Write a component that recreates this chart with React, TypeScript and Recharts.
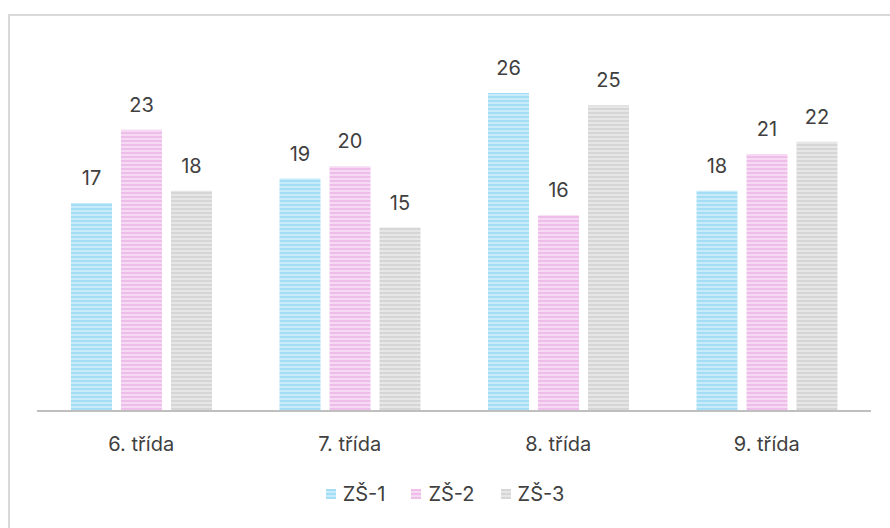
import React from "react";
import { BarChart, Bar, XAxis, YAxis, LabelList } from "recharts";

const categories = ["6. třída", "7. třída", "8. třída", "9. třída"];
const zs1 = [17, 19, 26, 18];
const zs2 = [23, 20, 16, 21];
const zs3 = [18, 15, 25, 22];
const seriesNames = ["ZŠ-1", "ZŠ-2", "ZŠ-3"];

const data = categories.map((c, i) => ({ name: c, a: zs1[i], b: zs2[i], c: zs3[i] }));

const FONT = "Inter, 'Noto Sans', sans-serif";
const TXT = "#404040";
const FS = 20;

const patterns = [
  { id: "pBlue", dark: "#a3def6", light: "#c8ebfa" },
  { id: "pPink", dark: "#eebdea", light: "#f6d9f3" },
  { id: "pGray", dark: "#d6d6d6", light: "#e6e6e6" },
];

const Defs = () => (
  <defs>
    {patterns.map((p) => (
      <pattern key={p.id} id={p.id} width="4" height="4" patternUnits="userSpaceOnUse">
        <rect x="0" y="0" width="4" height="4" fill={p.light} />
        <rect x="0" y="0" width="4" height="2" fill={p.dark} />
      </pattern>
    ))}
  </defs>
);

const LegendBox = () => (
  <div
    style={{
      position: "absolute",
      left: 0,
      top: 480,
      width: 890,
      height: 28,
      display: "flex",
      justifyContent: "center",
      alignItems: "center",
      fontFamily: FONT,
      fontSize: FS,
      color: TXT,
    }}
  >
    {seriesNames.map((n, i) => (
      <div key={n} style={{ display: "flex", alignItems: "center", marginRight: i < 2 ? 26 : 0 }}>
        <svg width={10} height={10} style={{ marginRight: 7 }}>
          <rect width={10} height={10} fill={`url(#${patterns[i].id})`} />
        </svg>
        <span>{n}</span>
      </div>
    ))}
  </div>
);

export default function App() {
  return (
    <div style={{ position: "absolute", left: 0, top: 0, width: 890, height: 528, overflow: "hidden" }}>
      <div
        style={{
          position: "absolute",
          left: 8,
          top: 14,
          width: 900,
          height: 540,
          borderLeft: "2px solid #d9d9d9",
          borderTop: "2px solid #d9d9d9",
        }}
      />
      <div style={{ position: "absolute", left: 0, top: 0 }}>
        <BarChart
          width={890}
          height={528}
          data={data}
          margin={{ top: 44, right: 19, bottom: 87, left: 37 }}
          barSize={41}
          barGap={9}
        >
          <Defs />
          <YAxis hide domain={[0, 30]} />
          <XAxis
            dataKey="name"
            axisLine={{ stroke: "#bfbfbf", strokeWidth: 2 }}
            tickLine={false}
            tickSize={0}
            tickMargin={26}
            tick={{ fill: TXT, fontSize: FS, fontFamily: FONT }}
          />
          <Bar dataKey="a" name={seriesNames[0]} fill="url(#pBlue)" isAnimationActive={false}>
            <LabelList dataKey="a" position="top" offset={18} style={{ fill: TXT, fontSize: FS, fontFamily: FONT }} />
          </Bar>
          <Bar dataKey="b" name={seriesNames[1]} fill="url(#pPink)" isAnimationActive={false}>
            <LabelList dataKey="b" position="top" offset={18} style={{ fill: TXT, fontSize: FS, fontFamily: FONT }} />
          </Bar>
          <Bar dataKey="c" name={seriesNames[2]} fill="url(#pGray)" isAnimationActive={false}>
            <LabelList dataKey="c" position="top" offset={18} style={{ fill: TXT, fontSize: FS, fontFamily: FONT }} />
          </Bar>
        </BarChart>
      </div>
      <LegendBox />
    </div>
  );
}
